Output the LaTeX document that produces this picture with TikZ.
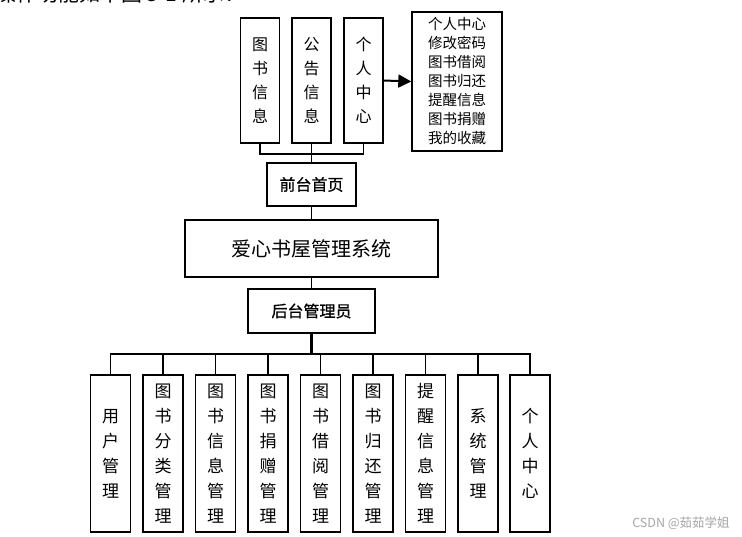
\documentclass[tikz,border=0pt]{standalone}
\usepackage{fontspec}
\setmainfont{Noto Sans CJK SC}
\newfontfamily\cjkmed[FakeBold=0.8]{Noto Sans CJK SC}
\usetikzlibrary{arrows.meta}
\tikzset{
  box/.style={draw=black, line width=1.4pt, fill=white, inner sep=0pt, align=center},
  vbox/.style={box, minimum width=40pt, minimum height=157pt, font=\fontsize{17}{25}\selectfont},
  tbox/.style={box, minimum width=39pt, minimum height=125pt, font=\fontsize{16}{24}\selectfont},
  conn/.style={draw=black, line width=1.1pt},
}
\begin{document}
\begin{tikzpicture}[x=1pt, y=-1pt]
\useasboundingbox (0,0) rectangle (742,537);
\fill[white] (0,0) rectangle (742,537);
% clipped heading line
\node[anchor=base west, inner sep=0pt, font=\fontsize{21}{21}\selectfont] (head) at (-5,2) {操作功能如下图 3-1 所示：};
% top boxes
\node[tbox] (t1) at (260,80.5) {图\\书\\信\\息};
\node[tbox] (t2) at (311.5,80.5) {公\\告\\信\\息};
\node[tbox] (t3) at (363.5,80.5) {个\\人\\中\\心};
\node[box, align=left, minimum width=90pt, minimum height=139pt, font=\fontsize{14.5}{19}\selectfont] (r) at (457,81.5) {个人中心\\修改密码\\图书借阅\\图书归还\\提醒信息\\图书捐赠\\我的收藏};
\draw[line width=2pt, -{Triangle[length=13pt, width=13pt]}] (t3.east) -- (r.west);
% middle
\node[box, minimum width=89pt, minimum height=43pt, font=\fontsize{16}{16}\selectfont\cjkmed] (front) at (311.5,184.5) {前台首页};
\node[box, minimum width=253pt, minimum height=57pt, font=\fontsize{20}{20}\selectfont] (sys) at (311.5,248.5) {爱心书屋管理系统};
\node[box, minimum width=127pt, minimum height=44pt, font=\fontsize{16}{16}\selectfont\cjkmed] (admin) at (311.5,311) {后台管理员};
\coordinate (topbus) at (311.5,154);
\draw[conn] (t1.south) |- (topbus) -| (t3.south);
\draw[conn] (t2.south) -- (front.north);
\draw[conn] (front.south) -- (sys.north);
\draw[conn] (sys.south) -- (admin.north);
% bottom
\coordinate (botbus) at (311.5,354);
\node[vbox] (b1) at (110.5,453.5) {用\\户\\管\\理};
\node[vbox] (b2) at (163,453.5) {图\\书\\分\\类\\管\\理};
\node[vbox] (b3) at (215.5,453.5) {图\\书\\信\\息\\管\\理};
\node[vbox] (b4) at (268,453.5) {图\\书\\捐\\赠\\管\\理};
\node[vbox] (b5) at (320.5,453.5) {图\\书\\借\\阅\\管\\理};
\node[vbox] (b6) at (373,453.5) {图\\书\\归\\还\\管\\理};
\node[vbox] (b7) at (425.5,453.5) {提\\醒\\信\\息\\管\\理};
\node[vbox] (b8) at (478,453.5) {系\\统\\管\\理};
\node[vbox] (b9) at (530,453.5) {个\\人\\中\\心};
\draw[line width=2.6pt] (admin.south) -- (botbus);
\draw[conn] (b1.north) |- (botbus) -| (b9.north);
\foreach \n in {b2,b3,b4,b5,b6,b7,b8} \draw[conn] (\n.north) -- (\n.north |- botbus);
% watermark
\node[anchor=center, inner sep=0pt, text=black!35, font=\fontsize{12.5}{12.5}\selectfont] (wm) at (681,523) {CSDN @茹茹学姐};
\end{tikzpicture}
\end{document}
